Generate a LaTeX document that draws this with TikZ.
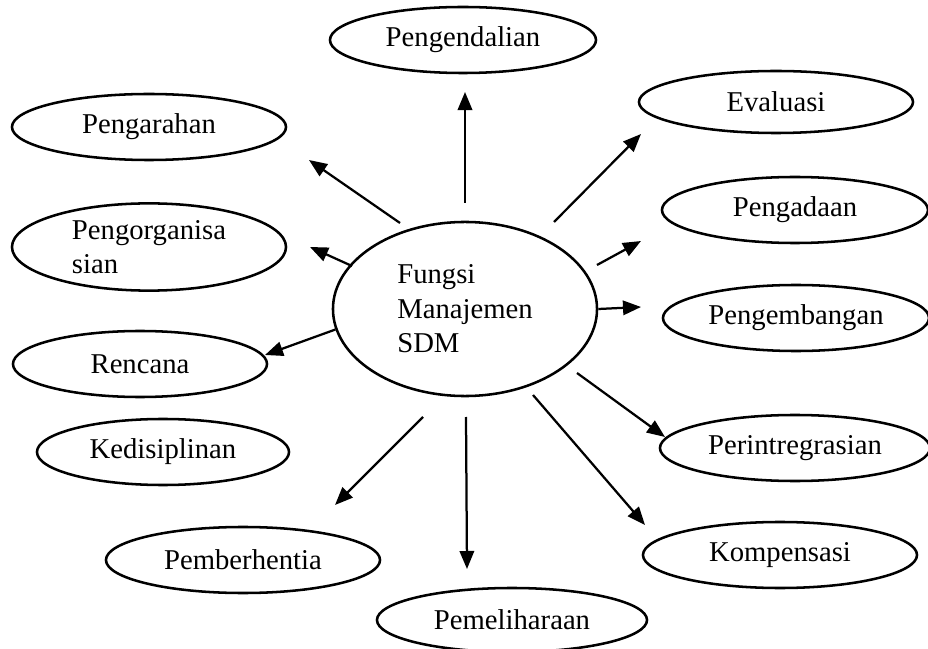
\documentclass[tikz,border=0pt]{standalone}
\usepackage{fontspec}
\setmainfont{Liberation Serif}
\usetikzlibrary{shapes.geometric,arrows.meta,positioning}
\tikzstyle{oval}=[ellipse,draw=black,line width=1.8pt,inner sep=0pt,minimum width=6.8cm,minimum height=1.65cm,font=\fontsize{20.4}{24.5}\selectfont]
\tikzstyle{link}=[->,draw=black,line width=1.6pt]

\begin{document}
\begin{tikzpicture}[x=0.025cm,y=-0.025cm,>={Triangle[length=4.5mm,width=3.6mm]}]
\useasboundingbox (0,0) rectangle (928,649);
% pusat
\node[oval,minimum width=6.6cm,minimum height=4.35cm,align=left] (fungsi) at (465,309) {Fungsi\\Manajemen\\SDM};
% kiri
\node[oval,minimum width=6.65cm] (kendali) at (463,40) {Pengendalian};
\node[oval,minimum width=6.85cm] (arah) at (149,127) {Pengarahan};
\node[oval,minimum width=6.85cm,minimum height=2.18cm,align=left] (organisasi) at (149,247) {Pengorganisa\\sian};
\node[oval,minimum width=6.35cm] (rencana) at (140,364) {Rencana};
\node[oval,minimum width=6.3cm] (disiplin) at (163,452) {Kedisiplinan};
\node[oval,minimum width=6.85cm] (henti) at (243,560) {Pemberhentia};
\node[oval,minimum width=6.75cm,minimum height=1.6cm] (pelihara) at (512,620) {Pemeliharaan};
% kanan
\node[oval,minimum width=6.85cm,minimum height=1.55cm] (evaluasi) at (776,102) {Evaluasi};
\node[oval,minimum width=6.65cm] (ada) at (795,210) {Pengadaan};
\node[oval,minimum width=6.65cm] (kembang) at (796,318) {Pengembangan};
\node[oval,minimum width=6.75cm] (integrasi) at (795,448) {Perintregrasian};
\node[oval,minimum width=6.85cm] (kompensasi) at (780,555) {Kompensasi};
% ujung panah
\coordinate (s1) at (465,203);  \coordinate (t1) at (465,92);
\coordinate (s2) at (554,222);  \coordinate (t2) at (641,134);
\coordinate (s3) at (597,265);  \coordinate (t3) at (641,241);
\coordinate (t4) at (641,307);
\coordinate (s5) at (577,373);  \coordinate (t5) at (665,437);
\coordinate (s6) at (533,395);  \coordinate (t6) at (645,525);
\coordinate (s7) at (466,417);  \coordinate (t7) at (467,569);
\coordinate (s8) at (423,417);  \coordinate (t8) at (335,505);
\coordinate (t9) at (265,355);
\coordinate (s10) at (352,266); \coordinate (t10) at (310,247);
\coordinate (s11) at (400,223); \coordinate (t11) at (309,160);
\draw [link] (s1) to (t1);
\draw [link] (s2) to (t2);
\draw [link] (s3) to (t3);
\draw [link] (fungsi.east) to (t4);
\draw [link] (s5) to (t5);
\draw [link] (s6) to (t6);
\draw [link] (s7) to (t7);
\draw [link] (s8) to (t8);
\draw [link] (fungsi.189) to (t9);
\draw [link] (s10) to (t10);
\draw [link] (s11) to (t11);
\end{tikzpicture}
\end{document}
